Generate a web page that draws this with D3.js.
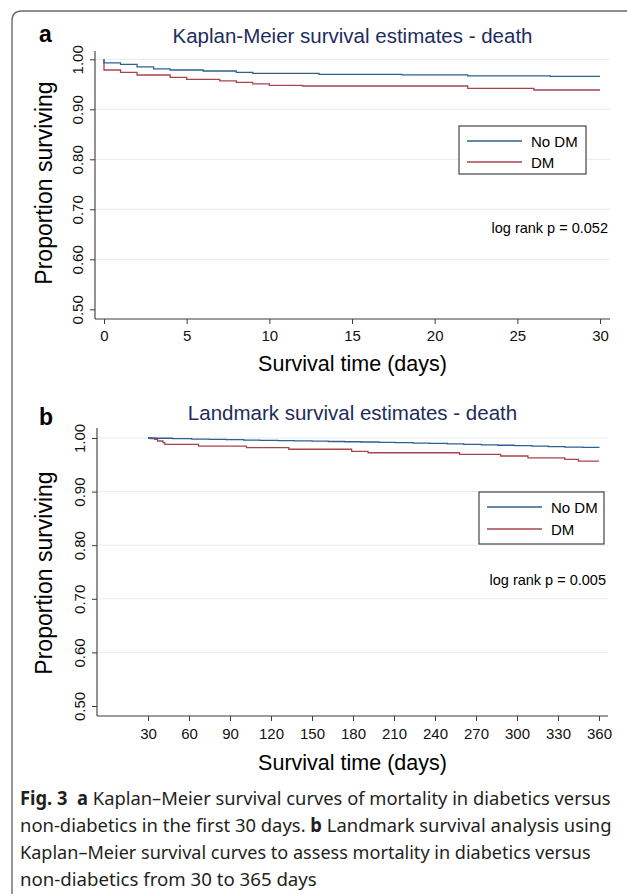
<!DOCTYPE html>
<html>
<head>
<meta charset="utf-8">
<script src="https://cdn.jsdelivr.net/npm/d3@7"></script>
<style>
  html, body { margin: 0; padding: 0; background: #fff; }
  svg { display: block; }
</style>
</head>
<body>
<svg id="chart" width="627" height="894"></svg>
<script>
// ---------------- DATA ----------------
// Panel a: Kaplan-Meier, first 30 days
const kmTimeNoDM = [0, 0, 1, 2, 3, 4, 6, 8, 9, 13, 18, 22, 27, 30];
const kmSurvNoDM = [1.000, 0.993, 0.990, 0.985, 0.981, 0.9786, 0.9766, 0.974, 0.972, 0.970, 0.969, 0.967, 0.966, 0.966];
const kmTimeDM   = [0, 0, 1, 2, 4, 5, 7, 8, 9, 10, 12, 22, 26, 30];
const kmSurvDM   = [1.000, 0.9786, 0.974, 0.9686, 0.964, 0.960, 0.957, 0.954, 0.951, 0.948, 0.9466, 0.942, 0.9386, 0.9386];

// Panel b: Landmark analysis, 30 to 365 days
const lmTimeNoDM = [30, 36, 48, 62, 75, 87, 100, 112, 125, 137, 150, 162, 174, 186, 199, 211, 224, 236, 249, 261, 274, 286, 298, 311, 323, 335, 348, 360];
const lmSurvNoDM = [1.000, 0.9995, 0.999, 0.998, 0.9975, 0.997, 0.9962, 0.9955, 0.995, 0.9945, 0.994, 0.9935, 0.993, 0.9925, 0.992, 0.9913, 0.9905, 0.9898, 0.989, 0.988, 0.9873, 0.9865, 0.9858, 0.985, 0.984, 0.983, 0.9825, 0.982];
const lmTimeDM   = [30, 32, 35, 37, 41, 42.3, 67, 102, 133, 179, 191, 258, 288, 308, 335, 345, 360];
const lmSurvDM   = [1.000, 0.999, 0.9975, 0.9944, 0.9913, 0.988, 0.985, 0.982, 0.979, 0.975, 0.9725, 0.9695, 0.9664, 0.963, 0.960, 0.957, 0.957];

const yTicks = [0.50, 0.60, 0.70, 0.80, 0.90, 1.00];
const yGrid  = [0.60, 0.70, 0.80, 0.90, 1.00];
const xTicksA = [0, 5, 10, 15, 20, 25, 30];
const xTicksB = [30, 60, 90, 120, 150, 180, 210, 240, 270, 300, 330, 360];
const seriesNames = ["No DM", "DM"];
const titleA = "Kaplan-Meier survival estimates - death";
const titleB = "Landmark survival estimates - death";
const pTextA = "log rank p = 0.052";
const pTextB = "log rank p = 0.005";
const yLabel = "Proportion surviving";
const xLabel = "Survival time (days)";

// ---------------- STYLE ----------------
const colNoDM = "#30608e";
const colDM = "#a8434c";
const gridCol = "#e6eef0";
const axisCol = "#3a3a3a";
const titleCol = "#1d2d5c";
const FONT = '"Liberation Sans", Arial, Helvetica, sans-serif';

const svg = d3.select("#chart");
svg.append("rect").attr("width", 627).attr("height", 894).attr("fill", "#fff");

// Frame (rounded top-left corner, continues off page)
svg.append("path")
  .attr("d", "M12,900 L12,21 Q12,11 22,11 L640,11")
  .attr("fill", "none").attr("stroke", "#6b6b6b").attr("stroke-width", 1.4);

function panel(cfg) {
  const g = svg.append("g");
  const x = d3.scaleLinear().domain(cfg.xDom).range(cfg.xRng);
  const y = d3.scaleLinear().domain([0.5, 1.0]).range(cfg.yRng);
  const L = cfg.left, R = cfg.right, T = cfg.top, B = cfg.bottom;

  // gridlines
  g.selectAll(".grid").data(yGrid).enter().append("line")
    .attr("x1", L).attr("x2", R)
    .attr("y1", d => y(d)).attr("y2", d => y(d))
    .attr("stroke", gridCol).attr("stroke-width", 1);

  // y axis
  const yAx = d3.axisLeft(y).tickValues(yTicks).tickSize(5).tickFormat(d3.format(".2f"));
  const gy = g.append("g").attr("transform", `translate(${L},0)`).call(yAx);
  gy.select(".domain").remove();
  gy.selectAll(".tick line").attr("stroke", axisCol);
  gy.selectAll(".tick text")
    .attr("font-size", 15).attr("fill", "#111").attr("font-family", FONT)
    .attr("text-anchor", "middle").attr("dy", null).attr("x", null)
    .attr("transform", "translate(-12,0) rotate(-90)");
  g.append("line").attr("x1", L).attr("x2", L).attr("y1", T).attr("y2", B)
    .attr("stroke", axisCol).attr("stroke-width", 1.1);

  // x axis
  const xAx = d3.axisBottom(x).tickValues(cfg.xTicks).tickSize(5).tickFormat(d3.format("d"));
  const gx = g.append("g").attr("transform", `translate(0,${B})`).call(xAx);
  gx.select(".domain").remove();
  gx.selectAll(".tick line").attr("stroke", axisCol);
  gx.selectAll(".tick text")
    .attr("font-size", 15).attr("fill", "#111").attr("font-family", FONT)
    .attr("dy", null).attr("y", cfg.xLabY - B);
  g.append("line").attr("x1", L).attr("x2", R).attr("y1", B).attr("y2", B)
    .attr("stroke", axisCol).attr("stroke-width", 1.1);

  // curves
  const line = d3.line().x(d => x(d[0])).y(d => y(d[1])).curve(d3.curveStepAfter);
  const s1 = cfg.t1.map((t, i) => [t, cfg.s1[i]]);
  const s2 = cfg.t2.map((t, i) => [t, cfg.s2[i]]);
  g.append("path").datum(s2).attr("d", line).attr("fill", "none")
    .attr("stroke", colDM).attr("stroke-width", 1.3);
  g.append("path").datum(s1).attr("d", line).attr("fill", "none")
    .attr("stroke", colNoDM).attr("stroke-width", 1.3);

  // title
  g.append("text").attr("x", (L + R) / 2).attr("y", cfg.titleY)
    .attr("text-anchor", "middle").attr("font-family", FONT)
    .attr("font-size", 20.5).attr("fill", titleCol).text(cfg.title);
  // panel letter
  g.append("text").attr("x", 39).attr("y", cfg.letterY)
    .attr("font-family", FONT).attr("font-weight", "bold")
    .attr("font-size", 23).attr("fill", "#000").text(cfg.letter);
  // y label
  g.append("text")
    .attr("transform", `translate(52,${cfg.yLabCY}) rotate(-90)`)
    .attr("text-anchor", "middle").attr("font-family", FONT)
    .attr("font-size", 23).attr("fill", "#000").text(yLabel);
  // x label
  g.append("text").attr("x", (L + R) / 2).attr("y", cfg.xTitleY)
    .attr("text-anchor", "middle").attr("font-family", FONT)
    .attr("font-size", 21.5).attr("fill", "#000").text(xLabel);

  // legend
  const lg = cfg.legend;
  g.append("rect").attr("x", lg.x).attr("y", lg.y).attr("width", lg.w).attr("height", lg.h)
    .attr("fill", "#fff").attr("stroke", "#333").attr("stroke-width", 1.1);
  [colNoDM, colDM].forEach((c, i) => {
    const yy = lg.y + lg.r0 + i * lg.dy;
    g.append("line").attr("x1", lg.x + 8).attr("x2", lg.x + 63)
      .attr("y1", yy).attr("y2", yy).attr("stroke", c).attr("stroke-width", 1.3);
    g.append("text").attr("x", lg.x + 72).attr("y", yy + 5.5)
      .attr("font-family", FONT).attr("font-size", 15).attr("fill", "#000")
      .text(seriesNames[i]);
  });
  // p value
  g.append("text").attr("x", R - 2).attr("y", cfg.pY).attr("text-anchor", "end")
    .attr("font-family", FONT).attr("font-size", 14.5).attr("fill", "#000").text(cfg.pText);
}

panel({
  xDom: [0, 30], xRng: [104, 600], yRng: [309.3, 59.3],
  left: 95, right: 610, top: 51, bottom: 319,
  xTicks: xTicksA, xLabY: 341, xTitleY: 371,
  t1: kmTimeNoDM, s1: kmSurvNoDM, t2: kmTimeDM, s2: kmSurvDM,
  title: titleA, titleY: 43, letter: "a", letterY: 42, yLabCY: 183,
  legend: { x: 459, y: 126, w: 127, h: 48, r0: 15, dy: 21 },
  pText: pTextA, pY: 233
});

panel({
  xDom: [30, 360], xRng: [148, 599], yRng: [706, 438],
  left: 97, right: 608, top: 428, bottom: 716,
  xTicks: xTicksB, xLabY: 739, xTitleY: 770,
  t1: lmTimeNoDM, s1: lmSurvNoDM, t2: lmTimeDM, s2: lmSurvDM,
  title: titleB, titleY: 420, letter: "b", letterY: 425, yLabCY: 573,
  legend: { x: 479, y: 492, w: 125, h: 52, r0: 15, dy: 22 },
  pText: pTextB, pY: 585
});

// ---------------- CAPTION ----------------
const CAP = '"Noto Sans", "Open Sans", sans-serif';
const captionLines = [
  { parts: [["Fig. 3", true], ["\u00a0\u00a0", false], ["a", true], [" Kaplan–Meier survival curves of mortality in diabetics versus", false]], len: 591 },
  { parts: [["non-diabetics in the first 30 days. ", false], ["b", true], [" Landmark survival analysis using", false]], len: 592 },
  { parts: [["Kaplan–Meier survival curves to assess mortality in diabetics versus", false]], len: 571 },
  { parts: [["non-diabetics from 30 to 365 days", false]], len: 297 }
];
const capY = [805, 832, 859, 886];
const capX = 20;
captionLines.forEach((ln, i) => {
  const g = svg.append("g");
  const t = g.append("text").attr("x", 0).attr("y", 0)
    .attr("font-family", CAP).attr("font-size", 19).attr("fill", "#231f20");
  ln.parts.forEach(p => {
    t.append("tspan").attr("font-weight", p[1] ? "bold" : "normal").text(p[0]);
  });
  const w = t.node().getComputedTextLength();
  const sx = w > 0 ? ln.len / w : 1;
  g.attr("transform", `translate(${capX},${capY[i]}) scale(${sx},1)`);
});
</script>
</body>
</html>
